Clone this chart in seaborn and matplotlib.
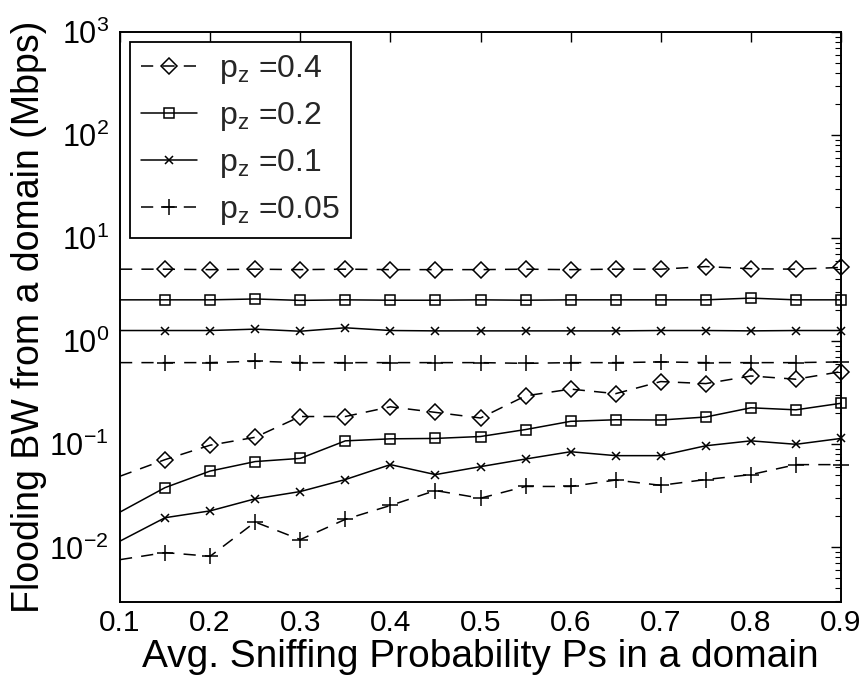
import numpy as np
import pandas as pd
import matplotlib
matplotlib.use("Agg")
import matplotlib.pyplot as plt
import seaborn as sns
from matplotlib.ticker import LogLocator, NullFormatter, FixedLocator

sns.set_theme(style="white")
plt.rcParams['font.family'] = ['Liberation Sans', 'DejaVu Sans']
plt.rcParams['mathtext.fontset'] = 'custom'
plt.rcParams['mathtext.rm'] = 'Liberation Sans'
plt.rcParams['mathtext.it'] = 'Liberation Sans:italic'
plt.rcParams['mathtext.default'] = 'regular'

ps = [0.10, 0.15, 0.20, 0.25, 0.30, 0.35, 0.40, 0.45, 0.50, 0.55,
      0.60, 0.65, 0.70, 0.75, 0.80, 0.85, 0.90]

# upper (flat) curves
up_04 = [5.0, 5.0, 4.95, 5.0, 4.95, 5.0, 4.95, 4.95, 4.95, 5.0, 4.95, 5.0, 5.0, 5.3, 5.05, 5.0, 5.2]
up_02 = [2.52, 2.52, 2.52, 2.57, 2.49, 2.52, 2.50, 2.50, 2.52, 2.50, 2.52, 2.52, 2.52, 2.52, 2.62, 2.52, 2.52]
up_01 = [1.27, 1.27, 1.27, 1.31, 1.25, 1.35, 1.27, 1.26, 1.26, 1.26, 1.26, 1.26, 1.27, 1.27, 1.26, 1.27, 1.27]
up_005 = [0.62, 0.62, 0.62, 0.64, 0.62, 0.62, 0.62, 0.62, 0.62, 0.61, 0.62, 0.62, 0.63, 0.62, 0.62, 0.62, 0.63]

# lower (rising) curves
lo_04 = [0.049, 0.071, 0.098, 0.117, 0.186, 0.186, 0.231, 0.204, 0.180, 0.295,
         0.343, 0.310, 0.406, 0.388, 0.460, 0.428, 0.507]
lo_02 = [0.022, 0.038, 0.055, 0.068, 0.073, 0.108, 0.113, 0.114, 0.119, 0.139,
         0.167, 0.173, 0.172, 0.184, 0.226, 0.216, 0.250]
lo_01 = [0.0115, 0.0194, 0.0226, 0.0296, 0.0348, 0.0455, 0.0635, 0.0508, 0.0607, 0.072,
         0.0847, 0.0776, 0.0776, 0.0968, 0.108, 0.100, 0.114]
lo_005 = [0.0076, 0.0089, 0.0082, 0.0176, 0.0119, 0.0187, 0.0255, 0.0356, 0.030, 0.039,
          0.039, 0.045, 0.040, 0.0455, 0.0508, 0.0635, 0.0635]

labels = ['0.4', '0.2', '0.1', '0.05']
ups = [up_04, up_02, up_01, up_005]
los = [lo_04, lo_02, lo_01, lo_005]
dash = (0, (8, 6))
styles = [dict(ls=dash, marker='D', ms=8),
          dict(ls='-', marker='s', ms=7.5),
          dict(ls='-', marker='x', ms=6),
          dict(ls=dash, marker='+', ms=11)]

fig = plt.figure(figsize=(8.65, 6.8), dpi=100)
ax = fig.add_axes([120/865, 1-602/680, (841-120)/865, (602-32)/680])

handles = []
for lab, up, lo, st in zip(labels, ups, los, styles):
    for ys in [up, lo]:
        df = pd.DataFrame({'ps': ps, 'bw': ys})
        sns.lineplot(data=df, x='ps', y='bw', ax=ax, color='black', linewidth=1.1,
                     linestyle=st['ls'], marker=st['marker'], markersize=st['ms'],
                     markerfacecolor='none', markeredgecolor='black', markeredgewidth=1.1,
                     markevery=slice(1, None), clip_on=False, zorder=3)
    h, = ax.plot([], [], color='black', lw=1.1, ls=st['ls'], marker=st['marker'],
                 ms=st['ms'], mfc='none', mec='black', mew=1.1,
                 label=r'$\mathregular{p_z}$ =' + lab)
    handles.append(h)

ax.set_yscale('log')
ax.set_xlim(0.1, 0.9)
ax.set_ylim(10**-2.53, 1e3)
ax.xaxis.set_major_locator(FixedLocator([0.1, 0.2, 0.3, 0.4, 0.5, 0.6, 0.7, 0.8, 0.9]))
ax.set_xticklabels(['0.1', '0.2', '0.3', '0.4', '0.5', '0.6', '0.7', '0.8', '0.9'])
ax.yaxis.set_major_locator(LogLocator(base=10, numticks=10))
ax.yaxis.set_minor_locator(LogLocator(base=10, subs=np.arange(2, 10), numticks=20))
ax.yaxis.set_minor_formatter(NullFormatter())

ax.tick_params(axis='both', which='both', direction='in', top=True, right=True,
               colors='black')
ax.tick_params(axis='x', which='major', labelsize=21.5, pad=5)
ax.tick_params(axis='y', which='major', labelsize=22, pad=8)
ax.tick_params(axis='both', which='major', length=7, width=1.0)
ax.tick_params(axis='y', which='minor', length=4, width=0.8)
for s in ax.spines.values():
    s.set_color('black')
    s.set_linewidth(1.4)

ax.set_xlabel('Avg. Sniffing Probability Ps in a domain', fontsize=28, color='black')
ax.xaxis.set_label_coords(0.5, -0.065)
ax.xaxis.label.set_verticalalignment('top')
ax.set_ylabel('Flooding BW from a domain (Mbps)', fontsize=27, color='black', labelpad=2)
ax.grid(False)

leg = ax.legend(handles=handles, loc='upper left', fontsize=23, frameon=True,
                fancybox=False, edgecolor='black', handlelength=1.75,
                borderaxespad=0.3, labelspacing=0.44, handletextpad=0.7,
                borderpad=0.35)
leg.get_frame().set_linewidth(1.3)
leg.get_frame().set_alpha(1)

fig.savefig('out.png', dpi=100, facecolor='white')
